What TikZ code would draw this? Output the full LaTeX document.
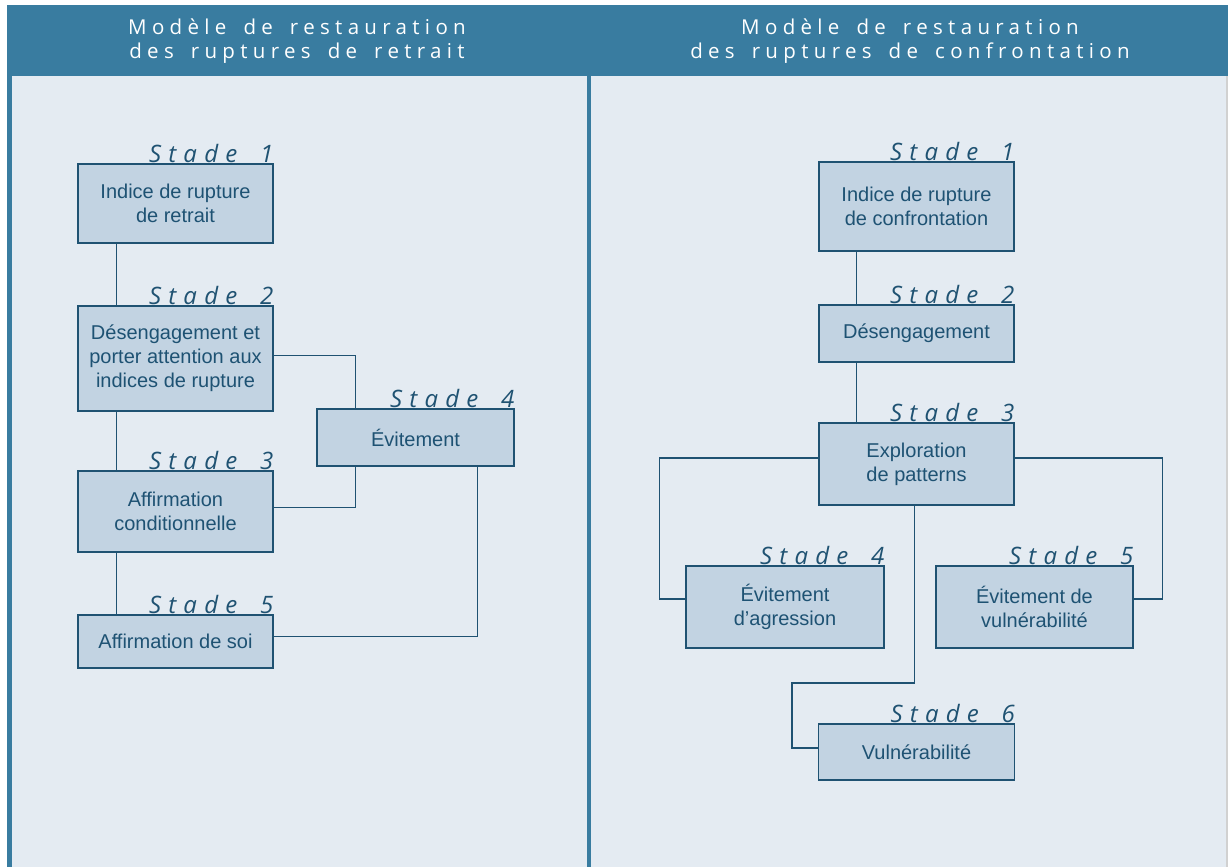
\documentclass[tikz,border=0pt]{standalone}
\usepackage{fontspec}
\setmainfont{Liberation Sans}
\newfontfamily\headfont[LetterSpace=26,WordSpace=1.6]{Open Sans}
\newfontfamily\stadefont[LetterSpace=30,WordSpace=1.7]{Open Sans}
\definecolor{bande}{HTML}{397CA0}
\definecolor{fond}{HTML}{E4EBF2}
\definecolor{boite}{HTML}{C2D3E2}
\definecolor{trait}{HTML}{1F5272}
\definecolor{encre}{HTML}{1E5273}
\begin{document}
\begin{tikzpicture}[x=1pt,y=-1pt,
    box/.style={draw=trait, line width=1.1pt, fill=boite, text=encre, align=center,
        font=\fontsize{20}{24}\selectfont, inner sep=0pt},
    stade/.style={anchor=base east, text=trait, inner sep=0pt, yshift=0.5pt,
        font=\stadefont\itshape\fontsize{24}{26}\selectfont},
    titre/.style={text=white, align=center, font=\headfont\fontsize{20.5}{24}\selectfont},
    link/.style={draw=trait, line width=1.1pt}]
    \useasboundingbox (0,0) rectangle (1228,867);

    % fonds
    \fill[bande] (7,5) rectangle (1228,76);
    \fill[bande] (7,76) rectangle (12,867);
    \fill[fond] (12,76) rectangle (587,867);
    \fill[bande] (587,76) rectangle (591,867);
    \fill[fond] (591,76) rectangle (1226,867);
    \fill[black!18] (1226,76) rectangle (1228,867);

    \node[titre] (tg) at (297,41.5) {Modèle de restauration\\des ruptures de retrait};
    \node[titre] (td) at (910,41.5) {Modèle de restauration\\des ruptures de confrontation};

    % retrait
    \node[box, minimum width=195, minimum height=79] (l1) at (175.5,203.5) {Indice de rupture\\de retrait};
    \node[box, minimum width=195, minimum height=105] (l2) at (175.5,358.5) {Désengagement et\\porter attention aux\\indices de rupture};
    \node[box, minimum width=195, minimum height=81] (l3) at (175.5,511.5) {Affirmation\\conditionnelle};
    \node[box, minimum width=197, minimum height=57] (l4) at (415.5,437.5) {Évitement};
    \node[box, minimum width=195, minimum height=53] (l5) at (175.5,641.5) {Affirmation de soi};

    \node[stade] (sl1) at (l1.north east) {Stade 1};
    \node[stade] (sl2) at (l2.north east) {Stade 2};
    \node[stade] (sl3) at (l3.north east) {Stade 3};
    \node[stade] (sl4) at (l4.north east) {Stade 4};
    \node[stade] (sl5) at (l5.north east) {Stade 5};

    \draw[link] ([xshift=39pt]l1.south west) -- ([xshift=39pt]l2.north west);
    \draw[link] ([xshift=39pt]l2.south west) -- ([xshift=39pt]l3.north west);
    \draw[link] ([xshift=39pt]l3.south west) -- ([xshift=39pt]l5.north west);
    \draw[link] ([yshift=3pt]l2.east) -| ([xshift=39pt]l4.north west);
    \draw[link] ([xshift=39pt]l4.south west) |- ([yshift=4pt]l3.east);
    \draw[link] ([xshift=-37pt]l4.south east) |- ([yshift=5pt]l5.east);

    % confrontation
    \node[box, minimum width=195, minimum height=89] (r1) at (916.5,206.5) {Indice de rupture\\de confrontation};
    \node[box, minimum width=195, minimum height=57] (r2) at (916.5,333.5) {Désengagement};
    \node[box, minimum width=195, minimum height=82] (r3) at (916.5,464) {Exploration\\de patterns};
    \node[box, minimum width=198, minimum height=82] (r4) at (785,607) {Évitement\\d’agression};
    \node[box, minimum width=197, minimum height=82] (r5) at (1034.5,607) {Évitement de\\vulnérabilité};
    \node[box, minimum width=196, minimum height=56] (r6) at (916.5,752) {Vulnérabilité};

    \node[stade] (sr1) at (r1.north east) {Stade 1};
    \node[stade] (sr2) at (r2.north east) {Stade 2};
    \node[stade] (sr3) at (r3.north east) {Stade 3};
    \node[stade] (sr4) at (r4.north east) {Stade 4};
    \node[stade] (sr5) at (r5.north east) {Stade 5};
    \node[stade] (sr6) at (r6.north east) {Stade 6};

    \coordinate (coude) at (792,683);
    \draw[link] ([xshift=-60pt]r1.south) -- ([xshift=-60pt]r2.north);
    \draw[link] ([xshift=-60pt]r2.south) -- ([xshift=-60pt]r3.north);
    \draw[link] ([yshift=6pt]r3.west) -| ([xshift=-26pt,yshift=8pt]r4.west) -- ([yshift=8pt]r4.west);
    \draw[link] ([yshift=6pt]r3.east) -| ([xshift=29pt,yshift=8pt]r5.east) -- ([yshift=8pt]r5.east);
    \draw[link] ([xshift=-2pt]r3.south) |- (coude) |- ([yshift=4pt]r6.west);
\end{tikzpicture}
\end{document}
